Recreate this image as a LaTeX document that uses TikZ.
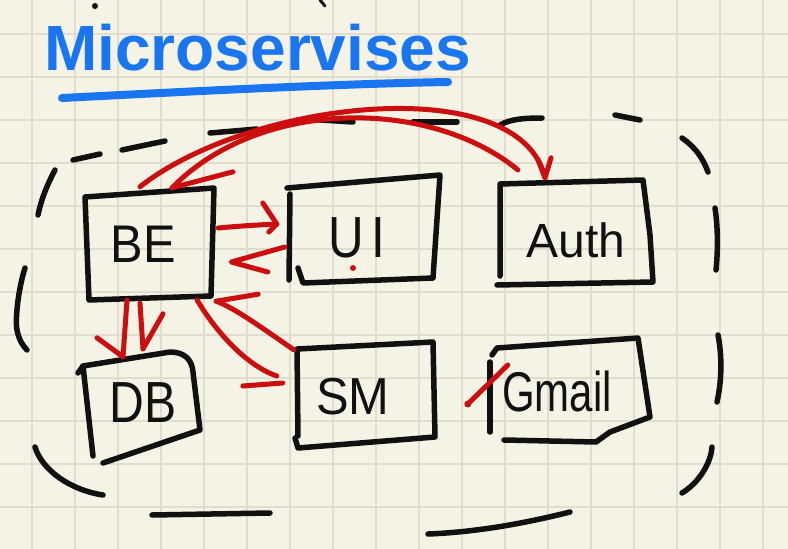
\documentclass[tikz,border=0pt]{standalone}
\usepackage{fontspec}
\setmainfont{Liberation Sans}
\usetikzlibrary{calc}
\definecolor{paper}{RGB}{245,243,230}
\definecolor{gridc}{RGB}{224,221,208}
\definecolor{ink}{RGB}{17,17,17}
\definecolor{penred}{RGB}{204,14,14}
\definecolor{penblue}{RGB}{25,118,240}
\tikzset{
  boxline/.style={draw=ink, line width=5.5pt, line cap=round, line join=round},
  dashpart/.style={draw=ink, line width=5.5pt, line cap=round},
  redline/.style={draw=penred, line width=5pt, line cap=round, line join=round},
  boxnode/.style={draw=none, rectangle, inner sep=0pt},
  lbl/.style={text=ink, inner sep=0pt, anchor=center},
}
\begin{document}
\begin{tikzpicture}[x=1pt, y=-1pt]
\useasboundingbox (0,0) rectangle (788,549);
\fill[paper] (0,0) rectangle (788,549);
% grid
\foreach \gx in {32,75,...,763} \draw[gridc, line width=1.6pt] (\gx,0) -- (\gx,549);
\foreach \gy in {34,77,...,549} \draw[gridc, line width=1.6pt] (0,\gy) -- (788,\gy);

% stray marks at top
\fill[ink] (95,6) circle (3);
\draw[ink, line width=3pt, line cap=round] (320,0) -- (325,6);

% title
\node[text=penblue, anchor=base west, inner sep=0pt] (title) at (44,70)
  {\scalebox{1.0}[1]{\fontsize{64}{64}\selectfont\bfseries Microservises}};
\draw[draw=penblue, line width=8pt, line cap=round] (62,98) .. controls (180,92) and (330,84) .. (448,82);

% dashed boundary
\draw[dashpart] (55,170) .. controls (47,185) and (41,200) .. (38,215);
\draw[dashpart] (73,160) -- (100,154);
\draw[dashpart] (122,150) -- (165,141);
\draw[dashpart] (210,133) -- (257,129);
\draw[dashpart] (305,119) -- (353,122);
\draw[dashpart] (413,122) -- (457,122);
\draw[dashpart] (500,125) .. controls (510,119) and (525,118) .. (542,118);
\draw[dashpart] (615,115) -- (640,120);
\draw[dashpart] (682,138) .. controls (695,147) and (703,158) .. (708,172);
\draw[dashpart] (715,208) .. controls (718,228) and (718,250) .. (716,270);
\draw[dashpart] (718,335) .. controls (722,355) and (722,380) .. (717,402);
\draw[dashpart] (712,447) .. controls (711,462) and (700,482) .. (682,493);
\draw[dashpart] (570,512) .. controls (530,522) and (480,532) .. (428,534);
\draw[dashpart] (152,515) -- (270,513);
\draw[dashpart] (35,447) .. controls (42,470) and (70,490) .. (103,495);
\draw[dashpart] (25,268) .. controls (18,290) and (15,320) .. (17,330) .. controls (19,340) and (23,346) .. (27,350);

% box nodes (anchors)
\node[boxnode, minimum width=130pt, minimum height=108pt] (be) at (149,244) {};
\node[boxnode, minimum width=150pt, minimum height=106pt] (ui) at (364,229) {};
\node[boxnode, minimum width=154pt, minimum height=104pt] (auth) at (576,232) {};
\node[boxnode, minimum width=118pt, minimum height=110pt] (db) at (141,408) {};
\node[boxnode, minimum width=138pt, minimum height=104pt] (sm) at (366,395) {};
\node[boxnode, minimum width=160pt, minimum height=104pt] (gmail) at (570,390) {};

% hand-drawn outlines
\draw[boxline] (85,197) -- (214,188) -- (211,296) -- (89,300) -- cycle;
\draw[boxline] (290,194) -- (289,280);
\draw[boxline] (287,188) -- (440,175) -- (433,278) -- (303,283) -- (298,268);
\draw[boxline] (500,276) -- (500,184) -- (643,180) -- (650,235) -- (653,282) -- (497,285);
\draw[boxline] (93,456) -- (83,366) -- (170,352) .. controls (185,352) and (192,360) .. (193,372) -- (200,430) -- (103,463);
\draw[boxline] (78,373) -- (83,366);
\draw[boxline] (298,436) -- (297,349) -- (433,342) -- (435,437) -- (298,448) -- (295,438);
\draw[boxline] (490,432) -- (490,362);
\draw[boxline] (492,355) -- (497,348) -- (638,338) -- (650,417) -- (610,432) -- (596,442) -- (504,440);

% labels
\node[lbl] (be-t) at (143,244) {\scalebox{0.92}[1]{\fontsize{53}{53}\selectfont BE}};
\node[lbl] (ui-t) at (357,238) {\scalebox{0.85}[1]{\fontsize{58}{58}\selectfont U\kern8pt I}};
\node[lbl] (auth-t) at (576,240) {\fontsize{48}{48}\selectfont Auth};
\node[lbl] (db-t) at (143,403) {\scalebox{0.83}[1]{\fontsize{58}{58}\selectfont DB}};
\node[lbl] (sm-t) at (353,397) {\scalebox{0.94}[1]{\fontsize{52}{52}\selectfont SM}};
\node[lbl] (gmail-t) at (557,391) {\scalebox{0.75}[1]{\fontsize{56}{56}\selectfont Gmail}};

% red connectors
% BE -> UI
\coordinate (t1) at ($(ui.west)+(-12,-5)$);
\draw[redline] ($(be.east)+(4,-16)$) .. controls ($(be.east)+(25,-18)$) and ($(t1)+(-20,1)$) .. (t1);
\draw[redline] ($(t1)+(-14,-21)$) -- (t1) -- ($(t1)+(-8,8)$);
% UI -> BE (chevron only)
\coordinate (t2) at ($(be.east)+(17,18)$);
\draw[redline] ($(ui.west)+(-4,18)$) -- (t2) -- ($(ui.west)+(-21,43)$);
% BE -> DB (two arrows)
\coordinate (t3) at ($(db.north)+(-18,4)$);
\draw[redline] ($(be.south)+(-22,2)$) -- (t3);
\draw[redline] ($(t3)+(-26,-19)$) -- (t3);
\coordinate (t4) at ($(db.north)+(2,-4)$);
\draw[redline] ($(be.south)+(-9,5)$) -- (t4);
\draw[redline] ($(t4)+(20,-35)$) -- (t4);
% BE -> SM
\coordinate (t5) at ($(sm.west)+(-20,-19)$);
\draw[redline] ($(be.south east)+(-17,2)$) .. controls (215,330) and (245,365) .. (t5);
\draw[redline] ($(t5)+(-34,10)$) -- ($(t5)+(6,7)$);
% SM -> BE
\coordinate (t6) at ($(be.south east)+(2,3)$);
\draw[redline] ($(sm.north west)+(-3,7)$) .. controls (265,330) and (235,308) .. (t6);
\draw[redline] ($(t6)+(42,-7)$) -- (t6);
% BE -> Auth
\coordinate (s7) at ($(be.north)+(-9,-3)$);
\coordinate (t7) at ($(auth.north)+(-31,-2)$);
\draw[redline] (s7) .. controls ($(s7)+(110,-87)$) and ($(t7)+(-25,-108)$) .. (t7);
\draw[redline] ($(t7)+(-7,-18)$) -- (t7) -- ($(t7)+(6,-20)$);
% Auth -> BE
\coordinate (s8) at ($(auth.north west)+(19,-10)$);
\coordinate (t8) at ($(be.north)+(23,-2)$);
\draw[redline] (s8) .. controls ($(s8)+(-88,-72)$) and ($(t8)+(88,-90)$) .. (t8);
\draw[redline] ($(t8)+(61,-16)$) -- (t8);
% slash at Gmail
\draw[redline] ($(gmail.west)+(-22,14)$) -- ($(gmail.west)+(18,-25)$);
\fill[penred] ($(gmail.west)+(-22,14)$) circle (3.5);
% red dot in UI
\fill[penred] ($(ui.center)+(-11,39)$) circle (3);
\end{tikzpicture}
\end{document}
